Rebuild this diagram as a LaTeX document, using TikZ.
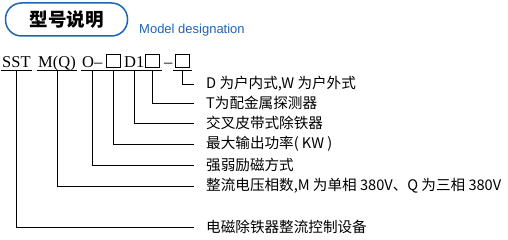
\documentclass[tikz,border=0pt]{standalone}
\usepackage{fontspec}
\setmainfont{Liberation Serif}
\newfontfamily\cjk{Noto Sans CJK SC}
\newfontfamily\latsans{Liberation Sans}
\definecolor{tblue}{RGB}{30,100,180}
\begin{document}
\begin{tikzpicture}[x=1pt,y=-1pt,
  code/.style={anchor=base west, inner xsep=1pt, inner ysep=2.5pt, text height=11pt, text depth=0pt, font=\fontsize{16.5}{16.5}\selectfont},
  boxg/.style={anchor=south, minimum width=19pt, minimum height=17pt, inner sep=0pt},
  sq/.style={line width=0.8pt},
  desc/.style={anchor=west, inner sep=0pt, font=\cjk\fontsize{14.6}{14.6}\selectfont},
  conn/.style={line width=0.8pt}]
\useasboundingbox (0,0) rectangle (508,240);
% title
\node[draw=tblue, line width=1.5pt, rounded corners=16pt, minimum width=122pt, minimum height=33pt, inner sep=0pt] (title) at (66.5,19.5) {\cjk\bfseries\fontsize{18.5}{18.5}\selectfont 型号说明};
\node[anchor=base west, inner sep=0pt, text=tblue, font=\latsans\fontsize{13}{13}\selectfont] (eng) at (139,34) {Model designation};
% code line
\node[code] (g1) at (1,67.5) {SST};
\node[code] (g2) at (37,67.5) {M(Q)};
\node[code] (g3) at (81,67.5) {O–};
\node[boxg] (b1) at (113.5,70) {};
\node[code] (g4) at (123,67.5) {D1};
\node[boxg] (b2) at (152.5,70) {};
\node[code] (g5) at (163,67.5) {–};
\node[boxg] (b3) at (182.5,70) {};
\foreach \b in {b1,b2,b3}{\draw[sq] (\b.center) +(-7,-6.5) rectangle +(7,6.5);}
\foreach \g in {g1,g2,g3,g4,b1,b2,b3}{\draw[conn] (\g.south west) -- (\g.south east);}
% descriptions
\node[desc] (r1) at (206,84) {D 为户内式,W 为户外式};
\node[desc] (r2) at (206,103) {T为配金属探测器};
\node[desc] (r3) at (206,123) {交叉皮带式除铁器};
\node[desc] (r4) at (206,144) {最大输出功率( KW )};
\node[desc] (r5) at (206,165) {强弱励磁方式};
\node[desc] (r6) at (206,186) {整流电压相数,M 为单相 380V、Q 为三相 380V};
\node[desc] (r7) at (206,227) {电磁除铁器整流控制设备};
% connectors
\draw[conn] (b3.south) |- ([xshift=-12pt]r1.west);
\draw[conn] (b2.south) |- ([xshift=-12pt]r2.west);
\draw[conn] (g4.south) |- ([xshift=-12pt]r3.west);
\draw[conn] (b1.south) |- ([xshift=-12pt]r4.west);
\draw[conn] (g3.south) |- ([xshift=-12pt]r5.west);
\draw[conn] (g2.south) |- ([xshift=-12pt]r6.west);
\draw[conn] (g1.south) |- ([xshift=-12pt]r7.west);
\end{tikzpicture}
\end{document}
